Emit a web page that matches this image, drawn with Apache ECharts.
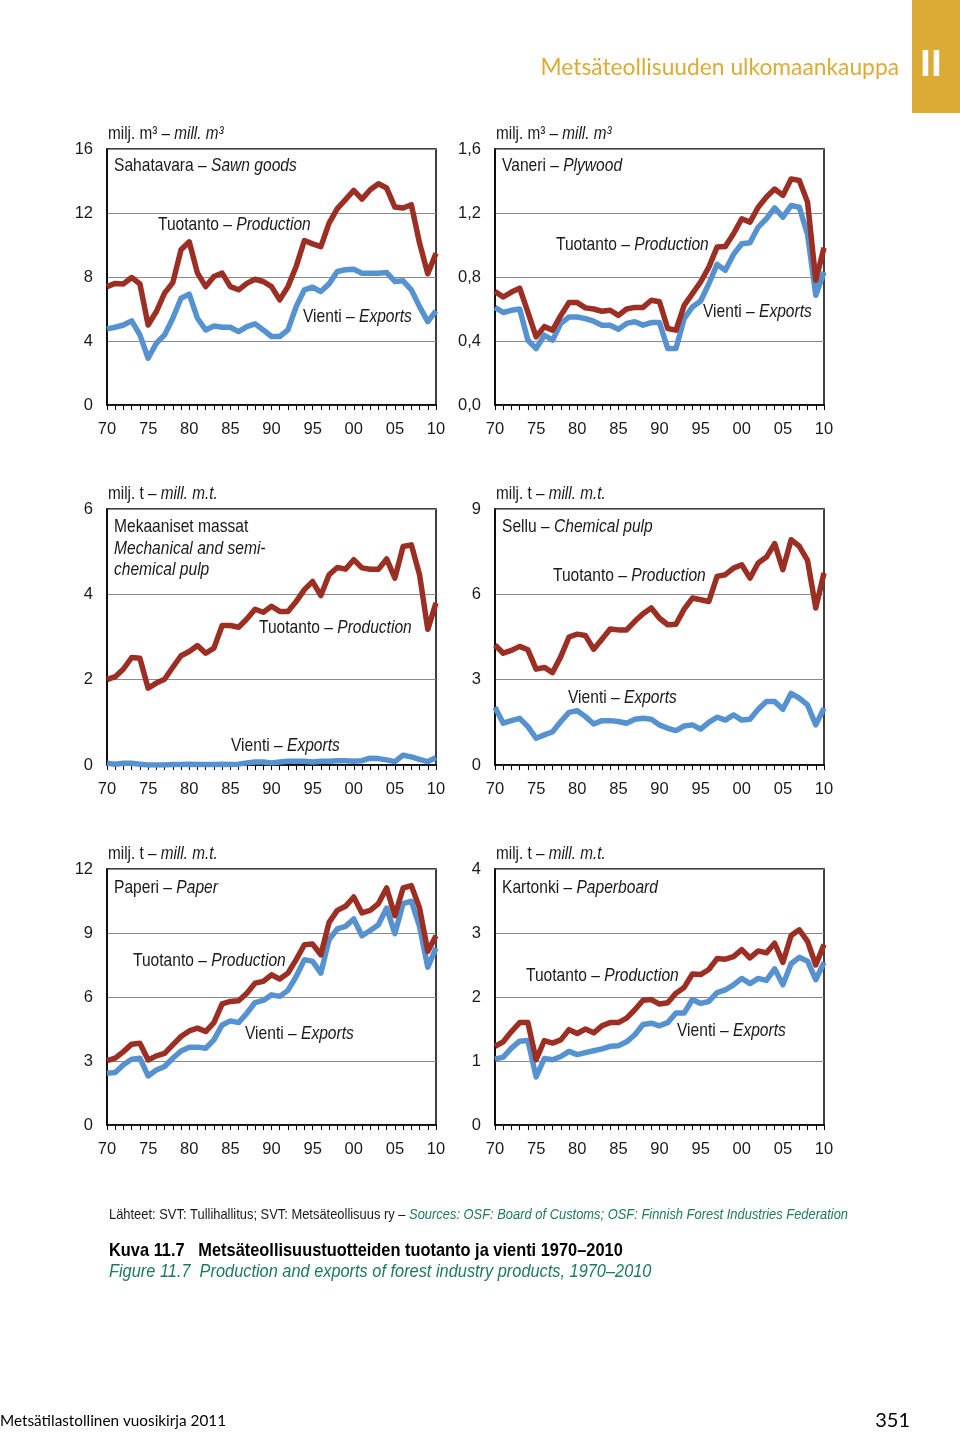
<!DOCTYPE html>
<html><head><meta charset="utf-8">
<script src="https://cdn.jsdelivr.net/npm/echarts@6/dist/echarts.min.js"></script>
<style>html,body{margin:0;padding:0;background:#fff}#c{width:960px;height:1433px}</style>
</head><body><div id="c"></div>
<script>
// ---------- DATA ----------
const years = ['70','71','72','73','74','75','76','77','78','79','80','81','82','83','84','85','86','87','88','89',
  '90','91','92','93','94','95','96','97','98','99','00','01','02','03','04','05','06','07','08','09','10'];

// Sawn goods, mill. m3
const sawnProd = [7.4,7.6,7.57,7.97,7.57,5.0,5.84,6.99,7.65,9.7,10.2,8.24,7.4,8.03,8.24,7.4,7.2,7.6,7.86,7.72,
  7.4,6.57,7.4,8.66,10.28,10.07,9.9,11.37,12.27,12.83,13.41,12.87,13.45,13.83,13.56,12.37,12.31,12.52,10.12,8.2,9.49];
const sawnExp = [4.76,4.86,5.0,5.26,4.38,2.92,3.86,4.38,5.42,6.67,6.93,5.42,4.69,4.94,4.86,4.86,4.59,4.9,5.07,4.69,
  4.28,4.28,4.69,6.15,7.2,7.36,7.09,7.57,8.34,8.45,8.49,8.24,8.24,8.24,8.28,7.72,7.76,7.2,6.15,5.21,5.88];

// Plywood, mill. m3
const plyProd = [0.71,0.675,0.706,0.73,0.58,0.426,0.49,0.468,0.56,0.64,0.64,0.607,0.60,0.586,0.592,0.56,0.60,0.61,0.61,0.655,
  0.645,0.478,0.468,0.623,0.696,0.769,0.862,0.987,0.991,1.07,1.164,1.143,1.236,1.3,1.35,1.31,1.413,1.403,1.268,0.78,0.983];
const plyExp = [0.61,0.578,0.592,0.60,0.405,0.353,0.436,0.405,0.51,0.55,0.55,0.54,0.524,0.499,0.499,0.474,0.51,0.52,0.499,0.515,
  0.515,0.353,0.353,0.54,0.613,0.65,0.758,0.879,0.842,0.941,1.008,1.014,1.112,1.164,1.232,1.174,1.247,1.236,1.066,0.686,0.831];

// Mechanical and semi-chemical pulp, mill. m.t.
const mechProd = [2.0,2.07,2.25,2.52,2.5,1.8,1.92,2.01,2.29,2.56,2.66,2.8,2.62,2.74,3.27,3.27,3.23,3.42,3.65,3.58,
  3.72,3.6,3.6,3.83,4.11,4.3,3.97,4.46,4.63,4.59,4.81,4.62,4.59,4.59,4.83,4.38,5.12,5.16,4.46,3.18,3.8];
const mechExp = [0.04,0.02,0.04,0.04,0.02,0.0,0.0,0.0,0.01,0.01,0.02,0.01,0.01,0.01,0.02,0.01,0.02,0.05,0.07,0.07,
  0.05,0.07,0.09,0.09,0.09,0.07,0.09,0.09,0.1,0.1,0.09,0.1,0.16,0.15,0.12,0.08,0.23,0.19,0.13,0.08,0.17];

// Chemical pulp, mill. m.t.
const chemProd = [4.22,3.93,4.03,4.17,4.05,3.37,3.43,3.25,3.81,4.5,4.6,4.55,4.07,4.42,4.78,4.75,4.75,5.05,5.32,5.52,
  5.16,4.93,4.95,5.48,5.87,5.81,5.75,6.63,6.69,6.92,7.04,6.57,7.1,7.31,7.78,6.87,7.92,7.69,7.19,5.52,6.75];
const chemExp = [2.03,1.47,1.56,1.64,1.35,0.94,1.06,1.17,1.53,1.85,1.91,1.7,1.44,1.56,1.56,1.53,1.47,1.61,1.64,1.61,
  1.41,1.29,1.21,1.37,1.41,1.26,1.5,1.68,1.58,1.76,1.58,1.61,1.96,2.23,2.23,1.96,2.52,2.35,2.11,1.41,2.0];

// Paper, mill. m.t.
const paperProd = [3.02,3.13,3.44,3.79,3.83,3.05,3.24,3.36,3.76,4.15,4.41,4.54,4.38,4.8,5.68,5.79,5.82,6.18,6.65,6.73,
  7.04,6.84,7.12,7.75,8.45,8.48,7.98,9.5,10.06,10.25,10.69,9.94,10.06,10.38,11.11,9.81,11.11,11.22,10.17,8.14,8.87];
const paperExp = [2.43,2.46,2.82,3.08,3.13,2.3,2.58,2.74,3.13,3.47,3.65,3.65,3.6,3.99,4.69,4.88,4.8,5.24,5.74,5.84,
  6.1,6.03,6.31,6.96,7.75,7.67,7.12,8.69,9.19,9.31,9.66,8.87,9.12,9.39,10.17,8.97,10.38,10.49,9.31,7.4,8.29];

// Paperboard, mill. m.t.
const boardProd = [1.23,1.3,1.46,1.6,1.6,1.02,1.32,1.28,1.33,1.49,1.43,1.5,1.44,1.55,1.6,1.6,1.67,1.8,1.95,1.96,
  1.89,1.91,2.06,2.15,2.36,2.35,2.43,2.6,2.59,2.63,2.74,2.61,2.72,2.69,2.84,2.54,2.96,3.05,2.87,2.5,2.82];
const boardExp = [1.03,1.06,1.2,1.31,1.32,0.75,1.04,1.02,1.07,1.15,1.1,1.13,1.16,1.19,1.23,1.24,1.3,1.41,1.57,1.59,
  1.55,1.6,1.75,1.75,1.96,1.9,1.93,2.07,2.11,2.19,2.29,2.21,2.29,2.26,2.44,2.19,2.52,2.62,2.56,2.27,2.54];

// y-axis scales
const yMax = [16, 1.6, 6, 9, 12, 4];
const yStep = [4, 0.4, 2, 3, 3, 1];
const yDecimals = [0, 1, 0, 0, 0, 0];

// texts
const unitM3 = 'milj. m³ – {i|mill. m³}';
const unitT = 'milj. t – {i|mill. m.t.}';
const titles = [
  ['Sahatavara – {i|Sawn goods}'],
  ['Vaneri – {i|Plywood}'],
  ['Mekaaniset massat', '{i|Mechanical and semi-}', '{i|chemical pulp}'],
  ['Sellu – {i|Chemical pulp}'],
  ['Paperi – {i|Paper}'],
  ['Kartonki – {i|Paperboard}']
];
const prodLabel = 'Tuotanto – {i|Production}';
const expLabel = 'Vienti – {i|Exports}';

// ---------- LAYOUT ----------
const F = "'Liberation Sans Narrow', 'Liberation Sans', Arial, sans-serif";
const HF = "Lato, 'Open Sans', sans-serif";
const RED = '#9b2f24', BLUE = '#5592cf', INK = '#1a1a1a', GREEN = '#1f7a5a', GOLD = '#dcab36';
const GW = 329, GH = 256;
const gridPos = [[107,149],[495,149],[107,509],[495,509],[107,869],[495,869]];
const unitLabels = [unitM3, unitM3, unitT, unitT, unitT, unitT];
const titleLines = [[166],[166],[527,549,570],[527],[888],[888]];
const prodPos = [[158,225],[556,245],[259,628],[553,576],[133,961],[526,976]];
const expPos = [[303,317],[703,312],[231,746],[568,698],[245,1034],[677,1031]];
const series = [[sawnProd,sawnExp],[plyProd,plyExp],[mechProd,mechExp],[chemProd,chemExp],[paperProd,paperExp],[boardProd,boardExp]];

function txt(x, y, text, size, sx, extra) {
  const base = Object.assign({fontFamily: F, fontSize: size, fill: INK}, extra || {});
  return {
    type: 'text', x: x, y: y, scaleX: sx, silent: true,
    style: Object.assign({
      text: text, align: 'left', verticalAlign: 'middle',
      rich: { i: Object.assign({}, base, {fontStyle: 'italic'}), g: Object.assign({}, base, {fontStyle: 'italic', fill: GREEN}) }
    }, base)
  };
}

const grid = [], xAxis = [], yAxis = [], ser = [], graphic = [];
gridPos.forEach((p, k) => {
  grid.push({left: p[0], top: p[1], width: GW, height: GH, show: true, borderColor: '#000', borderWidth: 1.5, outerBoundsMode: 'none'});
  xAxis.push({
    type: 'category', gridIndex: k, data: years, boundaryGap: false,
    axisLine: {lineStyle: {color: '#000', width: 1.5}},
    axisTick: {show: true, interval: 0, length: 5, lineStyle: {color: '#000', width: 1}},
    axisLabel: {interval: 4, margin: 16, fontFamily: F, fontSize: 16.5, color: INK},
    splitLine: {show: false}
  });
  yAxis.push({
    type: 'value', gridIndex: k, min: 0, max: yMax[k], interval: yStep[k],
    axisLine: {show: true, lineStyle: {color: '#000', width: 1.5}},
    axisTick: {show: false},
    axisLabel: {margin: 14, fontFamily: F, fontSize: 16.5, color: INK,
      formatter: v => v.toFixed(yDecimals[k]).replace('.', ',')},
    splitLine: {show: true, lineStyle: {color: '#8a8a8a', width: 1}}
  });
  ser.push({type: 'line', xAxisIndex: k, yAxisIndex: k, data: series[k][1], symbol: 'none', z: 3,
    lineStyle: {color: BLUE, width: 5.5, join: 'round'}, silent: true});
  ser.push({type: 'line', xAxisIndex: k, yAxisIndex: k, data: series[k][0], symbol: 'none', z: 4,
    lineStyle: {color: RED, width: 5.5, join: 'round'}, silent: true});

  graphic.push(txt(p[0] + 1, p[1] - 15, unitLabels[k], 18, 0.85));
  titles[k].forEach((t, j) => graphic.push(txt(p[0] + 7, titleLines[k][j], t, 19, 0.82)));
  graphic.push(txt(prodPos[k][0], prodPos[k][1], prodLabel, 19, 0.82));
  graphic.push(txt(expPos[k][0], expPos[k][1], expLabel, 19, 0.82));
});

// header
graphic.push({type: 'rect', shape: {x: 912, y: 0, width: 48, height: 113}, style: {fill: GOLD}, silent: true});
graphic.push({type: 'text', x: 931, y: 64, silent: true, style: {text: 'II', fontFamily: HF, fontWeight: 900, fontSize: 36, fill: '#fff', align: 'center', verticalAlign: 'middle'}});
graphic.push({type: 'text', x: 899, y: 68, silent: true, style: {text: 'Metsäteollisuuden ulkomaankauppa', fontFamily: HF, fontSize: 22.8, fill: GOLD, align: 'right', verticalAlign: 'middle'}});

// footer
graphic.push(txt(109, 1215, 'Lähteet: SVT: Tullihallitus; SVT: Metsäteollisuus ry – {g|Sources: OSF: Board of Customs; OSF: Finnish Forest Industries Federation}', 14.5, 0.89));
graphic.push(txt(109, 1251, 'Kuva 11.7   Metsäteollisuustuotteiden tuotanto ja vienti 1970–2010', 18.5, 0.886, {fontWeight: 'bold', fill: '#000'}));
graphic.push(txt(109, 1272, 'Figure 11.7  Production and exports of forest industry products, 1970–2010', 18.5, 0.884, {fontStyle: 'italic', fill: GREEN}));
graphic.push({type: 'text', x: 0, y: 1421, silent: true, style: {text: 'Metsätilastollinen vuosikirja 2011', fontFamily: HF, fontSize: 15.3, fill: '#000', align: 'left', verticalAlign: 'middle'}});
graphic.push({type: 'text', x: 910, y: 1421, silent: true, style: {text: '351', fontFamily: HF, fontSize: 20, fill: '#000', align: 'right', verticalAlign: 'middle'}});

const chart = echarts.init(document.getElementById('c'), null, {renderer: 'canvas'});
chart.setOption({
  animation: false, backgroundColor: '#fff',
  grid: grid, xAxis: xAxis, yAxis: yAxis, series: ser, graphic: graphic
});
</script></body></html>
